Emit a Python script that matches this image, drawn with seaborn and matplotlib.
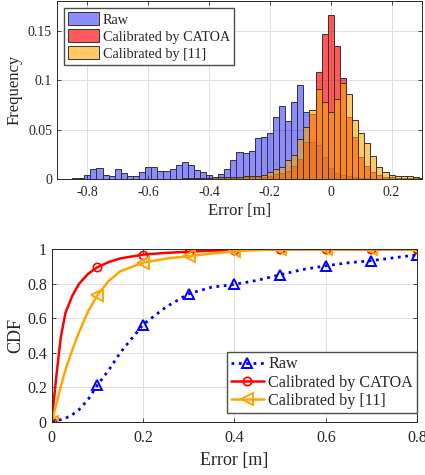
import numpy as np
import pandas as pd
import seaborn as sns
import matplotlib.pyplot as plt
from matplotlib.ticker import FuncFormatter

# histogram bins: 0.02 m wide, centred on even hundredths
bin_centers = np.round(np.arange(-0.88, 0.3001, 0.02), 2)
bin_edges = list(np.round(np.arange(-0.89, 0.3101, 0.02), 2))

# frequency per bin (left to right, -0.88 ... 0.30)
raw_freq = [0.0005, 0.0007, 0.0010, 0.0018, 0.0044, 0.0106, 0.0110, 0.0046, 0.0036, 0.0101,
            0.0068, 0.0034, 0.0034, 0.0077, 0.0121, 0.0121, 0.0086, 0.0080, 0.0102, 0.0140,
            0.0172, 0.0140, 0.0092, 0.0076, 0.0040, 0.0027, 0.0050, 0.0101, 0.0192, 0.0276,
            0.0265, 0.0286, 0.0414, 0.0431, 0.0471, 0.0626, 0.0744, 0.0586, 0.0785, 0.0949,
            0.0680, 0.0380, 0.0350, 0.0230, 0.0110, 0.0060, 0.0040, 0.0030, 0.0020, 0.0015,
            0.0010, 0.0008, 0.0006, 0.0005, 0.0004, 0.0003, 0.0003, 0.0002, 0.0002, 0.0001]
catoa_freq = [0.0002, 0.0002, 0.0002, 0.0002, 0.0002, 0.0002, 0.0002, 0.0002, 0.0002, 0.0002,
              0.0002, 0.0002, 0.0002, 0.0002, 0.0002, 0.0002, 0.0002, 0.0002, 0.0002, 0.0002,
              0.0008, 0.0008, 0.0008, 0.0008, 0.0008, 0.0015, 0.0015, 0.0015, 0.0018, 0.0018,
              0.0020, 0.0020, 0.0020, 0.0022, 0.0034, 0.0050, 0.0065, 0.0080, 0.0130, 0.0200,
              0.0380, 0.0660, 0.1080, 0.1470, 0.1660, 0.1350, 0.1020, 0.0630, 0.0430, 0.0230,
              0.0130, 0.0077, 0.0044, 0.0027, 0.0020, 0.0017, 0.0013, 0.0010, 0.0010, 0.0008]
ref11_freq = [0.0003, 0.0003, 0.0003, 0.0003, 0.0003, 0.0003, 0.0003, 0.0003, 0.0003, 0.0003,
              0.0003, 0.0003, 0.0003, 0.0003, 0.0003, 0.0003, 0.0003, 0.0003, 0.0003, 0.0003,
              0.0013, 0.0013, 0.0013, 0.0013, 0.0013, 0.0027, 0.0027, 0.0027, 0.0027, 0.0027,
              0.0034, 0.0034, 0.0034, 0.0040, 0.0077, 0.0100, 0.0128, 0.0190, 0.0250, 0.0410,
              0.0525, 0.0700, 0.0910, 0.0780, 0.0680, 0.0815, 0.0970, 0.0860, 0.0600, 0.0470,
              0.0365, 0.0236, 0.0128, 0.0071, 0.0040, 0.0037, 0.0034, 0.0030, 0.0024, 0.0017]

# CDF of absolute error
cdf_x = [0, 0.01, 0.02, 0.03, 0.045, 0.06, 0.08, 0.1, 0.125, 0.15, 0.2, 0.25, 0.3,
         0.35, 0.4, 0.45, 0.5, 0.55, 0.6, 0.65, 0.7, 0.75, 0.8]
raw_cdf = [0, 0.005, 0.012, 0.02, 0.04, 0.07, 0.13, 0.212, 0.30, 0.40, 0.563, 0.665, 0.742,
           0.78, 0.796, 0.82, 0.852, 0.883, 0.904, 0.922, 0.934, 0.951, 0.968]
catoa_cdf = [0, 0.26, 0.49, 0.63, 0.73, 0.80, 0.858, 0.896, 0.926, 0.947, 0.969, 0.979, 0.986,
             0.992, 0.996, 0.998, 1.0, 1.0, 1.0, 1.0, 1.0, 1.0, 1.0]
ref11_cdf = [0, 0.10, 0.205, 0.30, 0.415, 0.52, 0.64, 0.734, 0.817, 0.872, 0.922, 0.946, 0.96,
             0.975, 0.988, 0.995, 0.999, 1.0, 1.0, 1.0, 1.0, 1.0, 1.0]
mark_idx = [0, 7, 10, 12, 14, 16, 18, 20, 22]   # markers every 0.1 m

hist_df = pd.DataFrame({'center': bin_centers, 'raw': raw_freq,
                        'catoa': catoa_freq, 'ref11': ref11_freq})

sns.set_style("ticks")
plt.rcParams['font.family'] = ['Liberation Serif', 'DejaVu Serif']
plt.rcParams['axes.unicode_minus'] = False
dark = '0.15'

fig = plt.figure(figsize=(4.25, 4.75), dpi=100)
ax1 = fig.add_axes([0.134, 0.6225, 0.859, 0.3754])
ax2 = fig.add_axes([0.1216, 0.1122, 0.860, 0.363])

hist_kw = dict(data=hist_df, x='center', bins=bin_edges, stat='count',
               edgecolor='0.2', linewidth=0.7, ax=ax1)
sns.histplot(weights='raw', color=(0, 0, 1), alpha=0.45, label='Raw', **hist_kw)
sns.histplot(weights='catoa', color=(1, 0, 0), alpha=0.65, label='Calibrated by CATOA', **hist_kw)
sns.histplot(weights='ref11', color=(1, 0.65, 0), alpha=0.6, label='Calibrated by [11]', **hist_kw)

ax1.set_xlim(-0.9, 0.3)
ax1.set_ylim(0, 0.18)
ax1.set_xticks([-0.8, -0.6, -0.4, -0.2, 0, 0.2])
ax1.set_yticks([0, 0.05, 0.1, 0.15])
ax1.set_xlabel('Error [m]', fontsize=12, color=dark, labelpad=3)
ax1.set_ylabel('Frequency', fontsize=12, color=dark, labelpad=4)
ax1.legend(loc='upper left', bbox_to_anchor=(0.019, 0.96), borderaxespad=0, fontsize=10.2,
           fancybox=False, framealpha=1, edgecolor='0.3', handlelength=2.2, handleheight=1.0,
           borderpad=0.3, labelspacing=0.2, handletextpad=0.25)

sns.lineplot(x=cdf_x, y=raw_cdf, ax=ax2, color='blue', linestyle=':', linewidth=2,
             marker='^', markersize=7, markerfacecolor='none', markeredgecolor='blue',
             markeredgewidth=1.4, markevery=mark_idx, label='Raw')
sns.lineplot(x=cdf_x, y=catoa_cdf, ax=ax2, color='red', linewidth=1.8,
             marker='o', markersize=6, markerfacecolor='none', markeredgecolor='red',
             markeredgewidth=1.2, markevery=mark_idx, label='Calibrated by CATOA')
sns.lineplot(x=cdf_x, y=ref11_cdf, ax=ax2, color=(1, 0.65, 0), linewidth=1.8,
             marker='<', markersize=8, markerfacecolor='none', markeredgecolor=(1, 0.65, 0),
             markeredgewidth=1.4, markevery=mark_idx, label='Calibrated by [11]')

ax2.set_xlim(0, 0.8)
ax2.set_ylim(0, 1)
ax2.set_xticks([0, 0.2, 0.4, 0.6, 0.8])
ax2.set_yticks([0, 0.2, 0.4, 0.6, 0.8, 1])
ax2.set_xlabel('Error [m]', fontsize=13, color=dark, labelpad=4)
ax2.set_ylabel('CDF', fontsize=13, color=dark, labelpad=2)
ax2.legend(loc='lower right', bbox_to_anchor=(1.0, 0.05), borderaxespad=0, fontsize=11.6,
           fancybox=False, framealpha=1, edgecolor='0.3', handlelength=2.0,
           borderpad=0.25, labelspacing=0.15, handletextpad=0.3)

fmt = FuncFormatter(lambda v, p: '%g' % round(v, 3))
for ax, fs, pad in [(ax1, 10, 5), (ax2, 11.5, 6)]:
    ax.xaxis.set_major_formatter(fmt)
    ax.yaxis.set_major_formatter(fmt)
    ax.grid(True, color='0.87', linewidth=0.7)
    ax.set_axisbelow(True)
    ax.tick_params(direction='in', top=True, right=True, length=3, width=0.6,
                   colors=dark, labelsize=fs)
    ax.tick_params(axis='x', pad=pad)
    for s in ax.spines.values():
        s.set_visible(True)
        s.set_color(dark)
        s.set_linewidth(0.7)

fig.savefig('out.png', dpi=100)
